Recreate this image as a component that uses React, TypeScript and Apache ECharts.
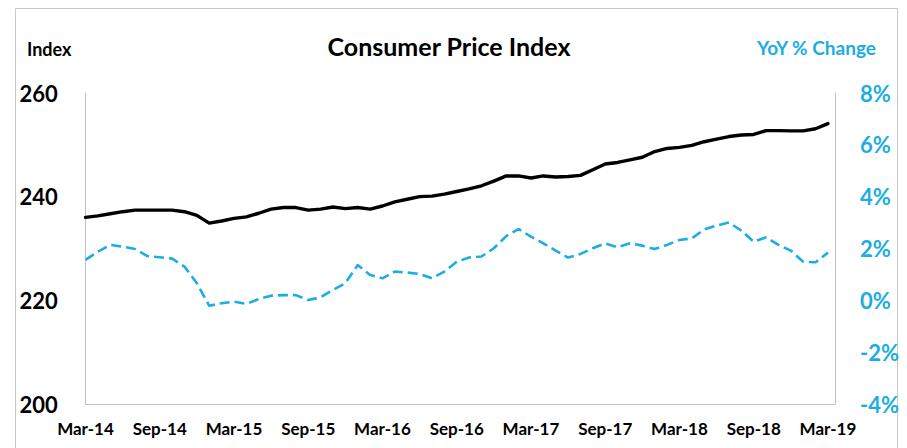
import React, { useEffect, useRef } from "react";
import * as echarts from "echarts";

const tickLabels = ["Mar-14", "Sep-14", "Mar-15", "Sep-15", "Mar-16", "Sep-16", "Mar-17", "Sep-17", "Mar-18", "Sep-18", "Mar-19"];

const cpiIndex = [
  236.0, 236.3, 236.7, 237.1, 237.4, 237.4, 237.4, 237.4, 237.1, 236.4,
  234.9, 235.3, 235.8, 236.1, 236.8, 237.6, 237.9, 237.9, 237.4, 237.6,
  238.0, 237.7, 237.9, 237.6, 238.2, 239.0, 239.5, 240.0, 240.1, 240.5,
  241.0, 241.5, 242.1, 243.0, 244.0, 244.0, 243.6, 244.0, 243.8, 243.9,
  244.1, 245.2, 246.3, 246.6, 247.1, 247.6, 248.7, 249.3, 249.5, 249.9,
  250.6, 251.1, 251.6, 251.9, 252.0, 252.75, 252.75, 252.7, 252.7, 253.1,
  254.1,
];

const yoyChange = [
  1.56, 1.88, 2.14, 2.07, 1.98, 1.71, 1.66, 1.61, 1.3, 0.66,
  -0.21, -0.11, -0.05, -0.14, 0.05, 0.18, 0.2, 0.2, 0.01, 0.12,
  0.4, 0.66, 1.36, 0.98, 0.85, 1.11, 1.07, 1.02, 0.85, 1.11,
  1.49, 1.65, 1.69, 2.01, 2.48, 2.75, 2.46, 2.2, 1.92, 1.65,
  1.79, 2.01, 2.2, 2.05, 2.2, 2.11, 1.98, 2.14, 2.33, 2.39,
  2.74, 2.88, 3.0, 2.69, 2.26, 2.43, 2.14, 1.92, 1.49, 1.47,
  1.84,
];

const FONT = "Lato";
const BLUE = "#1BADE4";
const AXIS_GRAY = "#BFBFBF";

export default function App() {
  const ref = useRef<HTMLDivElement>(null);
  useEffect(() => {
    if (!ref.current) return;
    const chart = echarts.init(ref.current, null, { renderer: "svg" });
    chart.setOption({
      animation: false,
      backgroundColor: "#ffffff",
      grid: { left: 85.5, right: 72, top: 93, bottom: 44 },
      graphic: [
        {
          type: "rect",
          shape: { x: 15.5, y: 8.5, width: 882, height: 470 },
          style: { fill: "none", stroke: "#C8C8C8", lineWidth: 1 },
          silent: true,
        },
        {
          type: "text",
          x: 449,
          y: 46,
          style: {
            text: "Consumer Price Index",
            fontFamily: FONT,
            fontWeight: "bold",
            fontSize: 25,
            fill: "#000",
            textAlign: "center",
            textVerticalAlign: "middle",
          },
        },
        {
          type: "text",
          x: 27,
          y: 49,
          style: {
            text: "Index",
            fontFamily: FONT,
            fontWeight: "bold",
            fontSize: 18,
            fill: "#000",
            textAlign: "left",
            textVerticalAlign: "middle",
          },
        },
        {
          type: "text",
          x: 757,
          y: 47,
          style: {
            text: "YoY % Change",
            fontFamily: FONT,
            fontWeight: "bold",
            fontSize: 19,
            fill: BLUE,
            textAlign: "left",
            textVerticalAlign: "middle",
          },
        },
      ],
      xAxis: {
        type: "value",
        min: 0,
        max: 60.57,
        interval: 6,
        axisLine: { show: true, onZero: false, lineStyle: { color: AXIS_GRAY, width: 1 } },
        axisTick: { show: false },
        splitLine: { show: false },
        axisLabel: {
          margin: 16,
          fontFamily: FONT,
          fontWeight: "bold",
          fontSize: 17,
          color: "#000",
          formatter: (v: number) => {
            const r = Math.round(v);
            if (Math.abs(v - r) > 1e-6 || r % 6 !== 0) return "";
            return tickLabels[r / 6] ?? "";
          },
        },
      },
      yAxis: [
        {
          type: "value",
          min: 200,
          max: 260,
          interval: 20,
          position: "left",
          axisLine: { show: true, onZero: false, lineStyle: { color: AXIS_GRAY, width: 1 } },
          axisTick: { show: false },
          splitLine: { show: false },
          axisLabel: {
            align: "left",
            margin: 66,
            padding: [0, 0, 5, 0],
            fontFamily: FONT,
            fontWeight: "bold",
            fontSize: 22,
            color: "#000",
          },
        },
        {
          type: "value",
          min: -4,
          max: 8,
          interval: 2,
          position: "right",
          axisLine: { show: true, onZero: false, lineStyle: { color: AXIS_GRAY, width: 1 } },
          axisTick: { show: false },
          splitLine: { show: false },
          axisLabel: {
            align: "left",
            margin: 25,
            padding: [0, 0, 5, 0],
            fontFamily: FONT,
            fontWeight: "bold",
            fontSize: 22,
            color: BLUE,
            formatter: "{value}%",
          },
        },
      ],
      series: [
        {
          name: "CPI",
          type: "line",
          yAxisIndex: 0,
          data: cpiIndex.map((v, i) => [i, v]),
          showSymbol: false,
          symbol: "none",
          lineStyle: { color: "#000", width: 3.4, join: "round", cap: "round" },
        },
        {
          name: "YoY % Change",
          type: "line",
          yAxisIndex: 1,
          data: yoyChange.map((v, i) => [i, v]),
          showSymbol: false,
          symbol: "none",
          lineStyle: { color: BLUE, width: 2.6, type: [10, 5] },
        },
      ],
    });
    return () => chart.dispose();
  }, []);
  return (
    <div
      ref={ref}
      style={{ position: "fixed", left: 0, top: 0, width: 907, height: 448 }}
    />
  );
}
